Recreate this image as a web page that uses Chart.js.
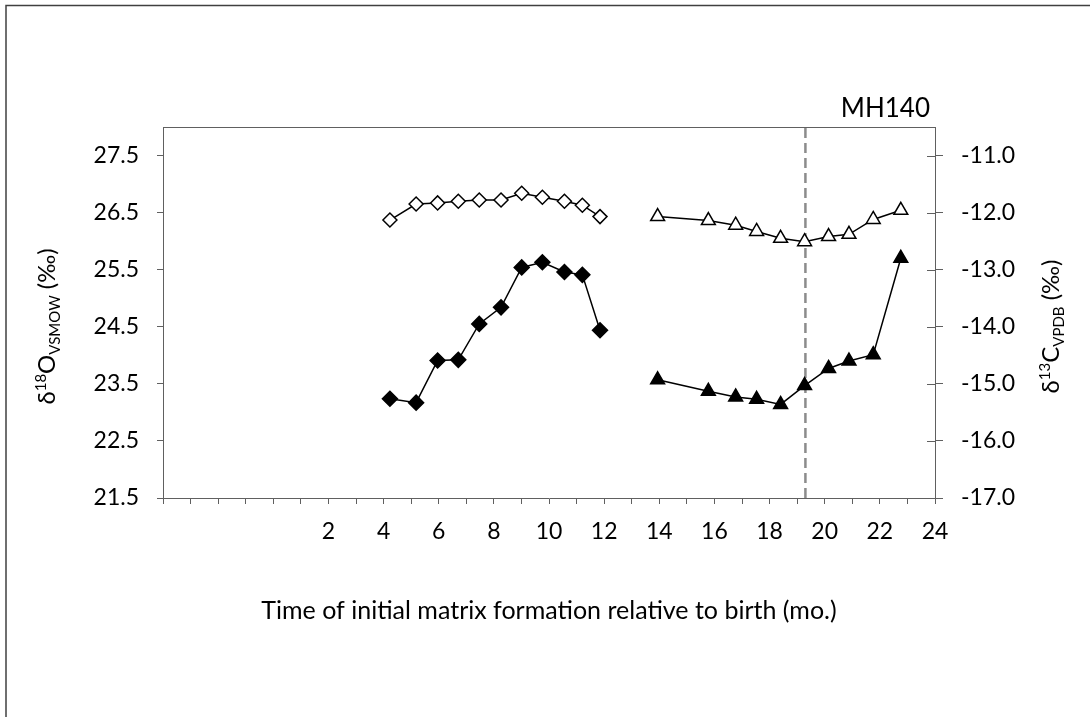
<!DOCTYPE html>
<html>
<head>
<meta charset="utf-8">
<script src="https://cdn.jsdelivr.net/npm/chart.js@4"></script>
<style>
  html, body { margin: 0; padding: 0; background: #fff; }
  #wrap { width: 1090px; height: 717px; }
</style>
</head>
<body>
<div id="wrap"><canvas id="isotope-chart" width="1090" height="717"></canvas></div>
<script>
// tooth A (diamonds) and tooth B (triangles), age in months
const ageA = [4.23, 5.18, 5.96, 6.71, 7.47, 8.26, 9.01, 9.76, 10.56, 11.21, 11.85];
const oxygenA = [26.37, 26.65, 26.67, 26.70, 26.72, 26.72, 26.84, 26.77, 26.70, 26.63, 26.43];
const carbonA = [-15.26, -15.33, -14.59, -14.58, -13.95, -13.66, -12.96, -12.87, -13.04, -13.09, -14.06];

const ageB = [13.94, 15.78, 16.77, 17.53, 18.40, 19.27, 20.14, 20.88, 21.76, 22.76];
const oxygenB = [26.43, 26.36, 26.28, 26.17, 26.05, 25.99, 26.08, 26.12, 26.38, 26.54];
const carbonB = [-14.93, -15.13, -15.23, -15.27, -15.36, -15.03, -14.73, -14.60, -14.49, -12.80];

const markerAge = 19.3;

const xTickValues = [-4, -3, -2, -1, 0, 1, 2, 3, 4, 5, 6, 7, 8, 9, 10, 11, 12, 13, 14, 15, 16, 17, 18, 19, 20, 21, 22, 23, 24];
const xTickLabels = [2, 4, 6, 8, 10, 12, 14, 16, 18, 20, 22, 24];
const oxygenTicks = [21.5, 22.5, 23.5, 24.5, 25.5, 26.5, 27.5];
const carbonTicks = [-17, -16, -15, -14, -13, -12, -11];

const AXIS = "#606060";
const FONT = "Lato";

const pts = (xs, ys) => xs.map((x, i) => ({ x, y: ys[i] }));

const series = (data, axis, style, fill, radius) => ({
  data,
  yAxisID: axis,
  showLine: true,
  borderColor: "#000",
  borderWidth: 1.5,
  pointStyle: style,
  pointRadius: radius,
  pointBackgroundColor: fill,
  pointBorderColor: "#000",
  pointBorderWidth: 1.5,
});

// draws text made of pieces (super/subscripts), centred on 0,0
const drawRich = (ctx, parts) => {
  let total = 0;
  parts.forEach((p) => {
    ctx.font = `${p.size}px ${FONT}`;
    p.w = ctx.measureText(p.t).width;
    total += p.w;
  });
  let x = -total / 2;
  parts.forEach((p) => {
    ctx.font = `${p.size}px ${FONT}`;
    ctx.fillText(p.t, x, p.dy || 0);
    x += p.w;
  });
};

const decor = {
  id: "decor",
  beforeDraw(chart) {
    const { ctx, width, height } = chart;
    ctx.save();
    ctx.strokeStyle = "#404040";
    ctx.lineWidth = 1.5;
    ctx.beginPath();
    ctx.moveTo(6, height);
    ctx.lineTo(6, 5.5);
    ctx.lineTo(width, 5.5);
    ctx.stroke();
    ctx.restore();
  },
  afterDraw(chart) {
    const { ctx, chartArea: a } = chart;
    const y2 = chart.scales.y2;
    ctx.save();
    ctx.strokeStyle = AXIS;
    ctx.lineWidth = 1;
    ctx.beginPath();
    ctx.moveTo(a.left, Math.round(a.top) + 0.5);
    ctx.lineTo(a.right, Math.round(a.top) + 0.5);
    // right axis ticks also reach into the plot
    carbonTicks.forEach((v) => {
      const py = Math.round(y2.getPixelForValue(v)) + 0.5;
      ctx.moveTo(a.right - 8, py);
      ctx.lineTo(a.right, py);
    });
    ctx.stroke();

    ctx.fillStyle = "#000";
    ctx.textBaseline = "alphabetic";

    ctx.font = `26px ${FONT}`;
    ctx.textAlign = "right";
    ctx.fillText("MH140", a.right - 5, 117);

    ctx.font = `25px ${FONT}`;
    ctx.textAlign = "center";
    ctx.fillText("Time of initial matrix formation relative to birth (mo.)", (a.left + a.right) / 2, 619);
    ctx.textAlign = "left";

    const mid = (a.top + a.bottom) / 2 + 14;
    ctx.save();
    ctx.translate(55, mid);
    ctx.rotate(-Math.PI / 2);
    drawRich(ctx, [
      { t: "δ", size: 24 },
      { t: "18", size: 15, dy: -9 },
      { t: "O", size: 24 },
      { t: "VSMOW", size: 15, dy: 5 },
      { t: " (‰)", size: 24 },
    ]);
    ctx.restore();

    ctx.save();
    ctx.translate(1059, mid);
    ctx.rotate(-Math.PI / 2);
    drawRich(ctx, [
      { t: "δ", size: 24 },
      { t: "13", size: 15, dy: -9 },
      { t: "C", size: 24 },
      { t: "VPDB", size: 15, dy: 5 },
      { t: " (‰)", size: 24 },
    ]);
    ctx.restore();
    ctx.restore();
  },
};

const gridOpts = (len) => ({
  drawOnChartArea: false,
  drawTicks: true,
  tickLength: len,
  color: AXIS,
  lineWidth: 1,
});

const ctx = document.getElementById("isotope-chart").getContext("2d");

const chart = new Chart(ctx, {
  type: "scatter",
  data: {
    datasets: [
      series(pts(ageA, oxygenA), "y", "rectRot", "#fff", 7),
      series(pts(ageA, carbonA), "y2", "rectRot", "#000", 7.5),
      series(pts(ageB, oxygenB), "y", "triangle", "#fff", 8),
      series(pts(ageB, carbonB), "y2", "triangle", "#000", 8),
      {
        data: [{ x: markerAge, y: 21.5 }, { x: markerAge, y: 28 }],
        yAxisID: "y",
        showLine: true,
        pointRadius: 0,
        borderColor: "#8c8c8c",
        borderWidth: 2.5,
        borderDash: [10, 5],
      },
    ],
  },
  options: {
    responsive: false,
    animation: false,
    devicePixelRatio: 1,
    layout: { padding: { top: 127, left: 0, right: 0, bottom: 0 } },
    plugins: {
      legend: { display: false },
      tooltip: { enabled: false },
    },
    scales: {
      x: {
        type: "linear",
        min: -4,
        max: 24,
        afterBuildTicks: (s) => { s.ticks = xTickValues.map((value) => ({ value })); },
        afterFit: (s) => { s.height = 219; },
        grid: gridOpts(6),
        border: { color: AXIS, width: 1 },
        ticks: {
          autoSkip: false,
          maxRotation: 0,
          padding: 14,
          color: "#000",
          font: { family: FONT, size: 23 },
          callback: (v) => (xTickLabels.includes(v) ? String(v) : ""),
        },
      },
      y: {
        type: "linear",
        position: "left",
        min: 21.5,
        max: 28,
        afterBuildTicks: (s) => { s.ticks = oxygenTicks.map((value) => ({ value })); },
        afterFit: (s) => { s.width = 163; },
        grid: gridOpts(6),
        border: { color: AXIS, width: 1 },
        ticks: {
          padding: 18,
          color: "#000",
          font: { family: FONT, size: 23 },
          callback: (v) => v.toFixed(1),
        },
      },
      y2: {
        type: "linear",
        position: "right",
        min: -17,
        max: -10.5,
        afterBuildTicks: (s) => { s.ticks = carbonTicks.map((value) => ({ value })); },
        afterFit: (s) => { s.width = 155; },
        grid: gridOpts(8),
        border: { color: AXIS, width: 1 },
        ticks: {
          padding: 18,
          color: "#000",
          font: { family: FONT, size: 23 },
          callback: (v) => v.toFixed(1),
        },
      },
    },
  },
  plugins: [decor],
});
</script>
</body>
</html>
